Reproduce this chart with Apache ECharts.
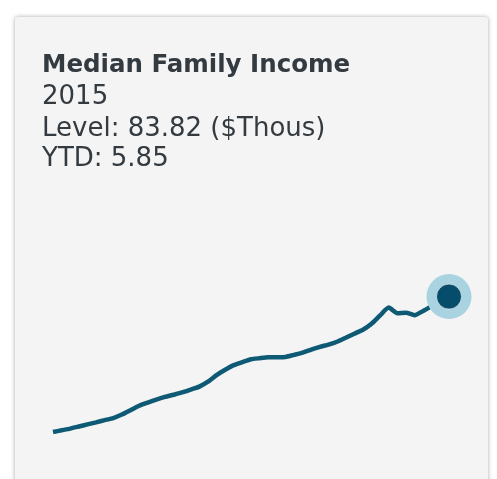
<!DOCTYPE html>
<html>
<head>
<meta charset="utf-8">
<script src="https://cdn.jsdelivr.net/npm/echarts@6/dist/echarts.min.js"></script>
<style>
  html, body { margin: 0; padding: 0; background: #ffffff; }
  #card {
    position: absolute; left: 15px; top: 17px; width: 473px; height: 480px;
    background: #f4f4f4; border-radius: 3px;
    box-shadow: 0 0 4px rgba(0, 0, 0, 0.35);
  }
  #chart { position: absolute; left: 0; top: 0; width: 497px; height: 479px; }
</style>
</head>
<body>
<div id="card"></div>
<div id="chart"></div>
<script>
// 数据：年度中位家庭收入（千美元）
var years = [];
for (var y = 1969; y <= 2015; y++) years.push(String(y));
var income = [
  40.00, 40.55, 41.10, 41.77, 42.45, 43.13, 43.83, 44.51, 45.64, 47.06,
  48.51, 49.54, 50.50, 51.34, 52.05, 52.79, 53.73, 54.69, 56.27, 58.40,
  60.14, 61.62, 62.59, 63.55, 63.88, 64.17, 64.20, 64.29, 64.97, 65.68,
  66.65, 67.55, 68.26, 69.19, 70.48, 71.80, 73.09, 75.02, 77.73, 80.24,
  78.44, 78.60, 77.79, 79.18, 80.76, 82.31, 83.82
];
var titleText = 'Median Family Income';
var periodText = '2015';
var levelText = 'Level: 83.82 ($Thous)';
var ytdText = 'YTD: 5.85';

var lastIdx = income.length - 1;
var myChart = echarts.init(document.getElementById('chart'));

function label(text, y, bold) {
    return {
        type: 'text', left: 42, top: y,
        style: {
            text: text, fontFamily: 'DejaVu Sans', fill: '#333a40',
            fontSize: bold ? 24.5 : 26, fontWeight: bold ? 'bold' : 'normal'
        }
    };
}

var option = {
    animation: false,
    graphic: [
        label(titleText, 53, true),
        label(periodText, 84, false),
        label(levelText, 116, false),
        label(ytdText, 146, false)
    ],
    grid: { left: 53, right: 48, top: 296, bottom: 47 },
    xAxis: { type: 'category', data: years, boundaryGap: false, show: false },
    yAxis: { type: 'value', min: 40, max: 84, show: false },
    series: [{
        type: 'line',
        data: income,
        symbol: 'none',
        smooth: 0.2,
        lineStyle: { color: '#0e5a75', width: 4.5 }
    }, {
        type: 'scatter',
        data: [[lastIdx, income[lastIdx]]],
        symbolSize: 45,
        itemStyle: { color: '#a9d3e0', opacity: 1 },
        z: 3
    }, {
        type: 'scatter',
        data: [[lastIdx, income[lastIdx]]],
        symbolSize: 25,
        itemStyle: { color: '#064d6b', borderColor: 'rgba(255,255,255,0.6)', borderWidth: 1, opacity: 1 },
        z: 4
    }]
};

myChart.setOption(option);
</script>
</body>
</html>
